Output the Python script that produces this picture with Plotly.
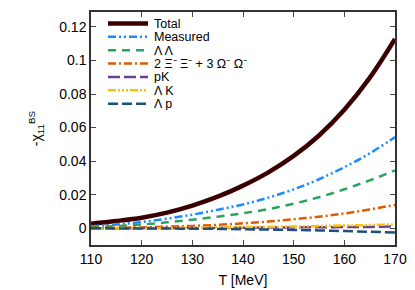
import plotly.graph_objects as go

T = [110, 115, 120, 125, 130, 135, 140, 145, 150, 155, 160, 165, 170]
total = [0.0027, 0.0043, 0.0063, 0.0093, 0.0135, 0.0188, 0.0254, 0.0333, 0.0431, 0.0553, 0.0706, 0.0896, 0.1128]
measured = [0.0012, 0.0022, 0.0037, 0.0057, 0.0081, 0.0110, 0.0142, 0.0182, 0.0232, 0.0292, 0.0364, 0.0446, 0.0543]
lamlam = [0.0006, 0.0013, 0.0022, 0.0035, 0.0051, 0.0069, 0.0089, 0.0114, 0.0146, 0.0185, 0.0232, 0.0285, 0.0345]
xiomega = [0.0001, 0.0003, 0.0005, 0.0009, 0.0014, 0.0020, 0.0029, 0.0040, 0.0054, 0.0069, 0.0088, 0.0112, 0.0139]
pK = [0.0000, 0.0000, 0.0001, 0.0001, 0.0002, 0.0002, 0.0003, 0.0004, 0.0005, 0.0006, 0.0007, 0.0008, 0.0010]
lamK = [0.0000, 0.0001, 0.0001, 0.0002, 0.0003, 0.0004, 0.0006, 0.0008, 0.0010, 0.0013, 0.0016, 0.0019, 0.0023]
lamp = [0.0000, -0.0001, -0.0001, -0.0002, -0.0003, -0.0004, -0.0006, -0.0008, -0.0010, -0.0013, -0.0017, -0.0021, -0.0025]

names = ["Total", "Measured", "Λ Λ", "2 Ξ⁻ Ξ⁻ + 3 Ω⁻ Ω⁻", "pK", "Λ K", "Λ p"]
xticks = [110, 120, 130, 140, 150, 160, 170]
yticks = [0, 0.02, 0.04, 0.06, 0.08, 0.1, 0.12]
yticklabels = ["0", "0.02", "0.04", "0.06", "0.08", "0.1", "0.12"]

series = [total, measured, lamlam, xiomega, pK, lamK, lamp]
colors = ["#3a0000", "#1a8cff", "#2ca25f", "#e05a00", "#6a3d9a", "#ffc000", "#1f5077"]
dashes = ["solid", "8px,3px,2px,3px,2px,3px", "8px,6px", "8px,3px,2px,3px", "12px,4px",
          "8px,2px,2px,2px,2px,2px,2px,2px", "10px,4px"]
widths = [4.5, 2.5, 2.5, 2.5, 2.5, 2.5, 2.5]

fig = go.Figure()
for n, s, c, d, w in zip(names, series, colors, dashes, widths):
    fig.add_trace(go.Scatter(x=T, y=s, name=n, mode="lines", showlegend=False,
                             line=dict(color=c, dash=d, width=w, shape="spline")))

# hand-drawn key (gnuplot style) in paper coordinates
L, R, TOP, BOT = 83, 387, 2, 237
def px(x):
    return (x - L) / (R - L)
def py(y):
    return (BOT - y) / (BOT - TOP)
for i, (n, c, d, w) in enumerate(zip(names, colors, dashes, widths)):
    yy = py(13.5 + 13.5 * i)
    fig.add_shape(type="line", xref="paper", yref="paper", x0=px(100), x1=px(140),
                  y0=yy, y1=yy, line=dict(color=c, dash=d, width=w))
    fig.add_annotation(xref="paper", yref="paper", x=px(145), y=yy, text=n,
                       showarrow=False, xanchor="left", yanchor="middle",
                       borderpad=0, height=13, valign="middle",
                       font=dict(size=12.5, color="black"))

font = "Liberation Sans, Arial, sans-serif"
fig.update_layout(
    width=415, height=290,
    margin=dict(l=L, r=415 - R, t=TOP, b=290 - BOT),
    paper_bgcolor="white", plot_bgcolor="white",
    font=dict(family=font, size=14, color="black"),
    showlegend=False,
    xaxis=dict(range=[110, 170], tickvals=xticks,
               ticks="inside", ticklen=5, mirror="allticks", showline=True,
               linecolor="#333", linewidth=1.5, showgrid=False, zeroline=False,
               title=dict(text="T [MeV]", standoff=10, font=dict(size=14))),
    yaxis=dict(range=[-0.0100, 0.1289], tickvals=yticks, ticktext=yticklabels,
               ticks="inside", ticklen=5, mirror="allticks", showline=True,
               linecolor="#333", linewidth=1.5, showgrid=False, zeroline=False,
               title=dict(text="-χ<sub>11</sub><sup>BS</sup>", standoff=14, font=dict(size=14))),
)
fig.write_html("out.html")
